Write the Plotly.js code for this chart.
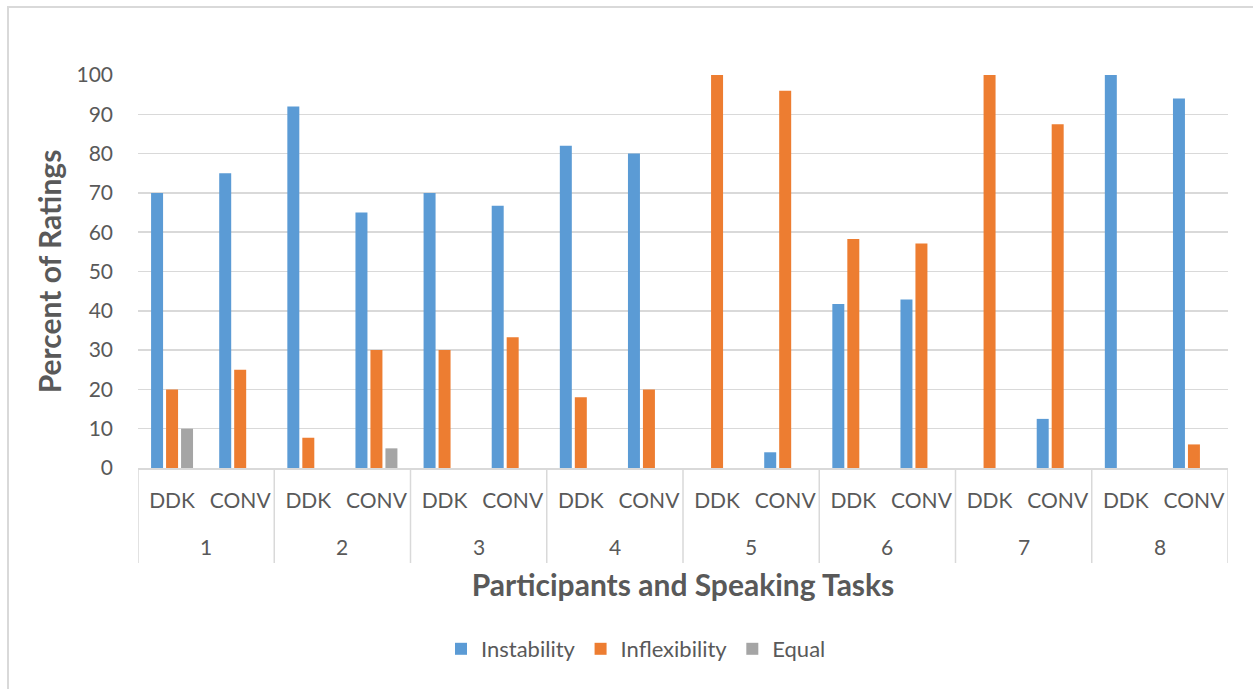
<!DOCTYPE html>
<html>
<head>
<meta charset="utf-8">
<script src="https://cdn.plot.ly/plotly-3.0.1.min.js"></script>
<style>
  html, body { margin: 0; padding: 0; background: #ffffff; }
  #wrap { position: relative; width: 1253px; height: 689px; overflow: hidden; }
  #chart { width: 1253px; height: 689px; }
  #frame { position: absolute; left: 7px; top: 6px; width: 1260px; height: 700px;
           border: 2px solid #D9D9D9; box-sizing: border-box; pointer-events: none; }
</style>
</head>
<body>
<div id="wrap">
  <div id="chart"></div>
  <div id="frame"></div>
</div>
<script>
// ---- data ----
const participants = ['1', '2', '3', '4', '5', '6', '7', '8'];
const tasks = ['DDK', 'CONV'];
const instability   = [70, 75, 92, 65, 70, 66.7, 82, 80, 0, 4, 41.7, 42.9, 0, 12.5, 100, 94];
const inflexibility = [20, 25, 7.7, 30, 30, 33.3, 18, 20, 100, 96, 58.3, 57.1, 100, 87.5, 0, 6];
const equal         = [10, 0, 0, 5, 0, 0, 0, 0, 0, 0, 0, 0, 0, 0, 0, 0];
const yTicks = [0, 10, 20, 30, 40, 50, 60, 70, 80, 90, 100];

// ---- build category positions ----
const xPos = [];
const xLabels = [];
participants.forEach((p, i) => {
  tasks.forEach((t, j) => {
    xPos.push(i * tasks.length + j);
    xLabels.push(t);
  });
});

const FONT = 'Lato, "Open Sans", sans-serif';
const GREY = '#595959';
const LINE = '#D9D9D9';

function bar(name, vals, color) {
  return {
    type: 'bar', name: name, x: xPos, y: vals,
    marker: { color: color, line: { width: 0 } },
    hoverinfo: 'name+y'
  };
}

const data = [
  bar('Instability', instability, '#5B9BD5'),
  bar('Inflexibility', inflexibility, '#ED7D31'),
  bar('Equal', equal, '#A5A5A5')
];

// plot-area pixel geometry (for paper-relative label placement)
const plotLeft = 138, plotRight = 1228, plotW = plotRight - plotLeft;
const plotTop = 75, plotBottom = 468, plotH = plotBottom - plotTop;
const toPaperY = (px) => (plotBottom - px) / plotH;
const toPaperX = (px) => (px - plotLeft) / plotW;

const shapes = [];
for (let i = 0; i <= participants.length; i++) {
  shapes.push({
    type: 'line', xref: 'x', yref: 'paper',
    x0: i * tasks.length - 0.5, x1: i * tasks.length - 0.5,
    y0: 0, y1: toPaperY(563),
    line: { color: LINE, width: 1.5 }
  });
}

const annotations = participants.map((p, i) => ({
  xref: 'x', yref: 'paper',
  x: i * tasks.length + (tasks.length - 1) / 2,
  y: toPaperY(546),
  text: p, showarrow: false,
  xanchor: 'center', yanchor: 'middle',
  font: { family: FONT, size: 21, color: GREY }
}));

const layout = {
  width: 1253, height: 689,
  margin: { l: plotLeft, r: 1253 - plotRight, t: plotTop, b: 689 - plotBottom, pad: 0 },
  paper_bgcolor: '#ffffff', plot_bgcolor: '#ffffff',
  barmode: 'group', bargap: 0.34, bargroupgap: 0.2,
  font: { family: FONT, color: GREY, size: 21 },
  xaxis: {
    range: [-0.5, xPos.length - 0.5],
    tickmode: 'array', tickvals: xPos, ticktext: xLabels,
    ticks: '', showgrid: false, zeroline: false,
    showline: true, linecolor: LINE, linewidth: 1.5,
    ticklabelstandoff: 13,
    tickfont: { family: FONT, size: 21, color: GREY },
    title: { text: 'Participants and Speaking Tasks', standoff: 64,
             font: { family: FONT, size: 30, color: GREY, weight: 'bold' } },
    fixedrange: true
  },
  yaxis: {
    range: [0, 100], tickmode: 'array', tickvals: yTicks,
    ticks: '', showgrid: true, gridcolor: LINE, gridwidth: 1.5,
    zeroline: false, showline: false,
    ticklabelstandoff: 24,
    tickfont: { family: FONT, size: 21, color: GREY },
    title: { text: 'Percent of Ratings', standoff: 5,
             font: { family: FONT, size: 30, color: GREY, weight: 'bold' } },
    fixedrange: true
  },
  legend: {
    orientation: 'h', x: toPaperX(636), xanchor: 'center',
    y: toPaperY(649), yanchor: 'middle',
    font: { family: FONT, size: 22, color: GREY },
    traceorder: 'normal', itemclick: false
  },
  shapes: shapes,
  annotations: annotations,
  showlegend: true
};

Plotly.newPlot('chart', data, layout, { displayModeBar: false, staticPlot: true });
</script>
</body>
</html>
